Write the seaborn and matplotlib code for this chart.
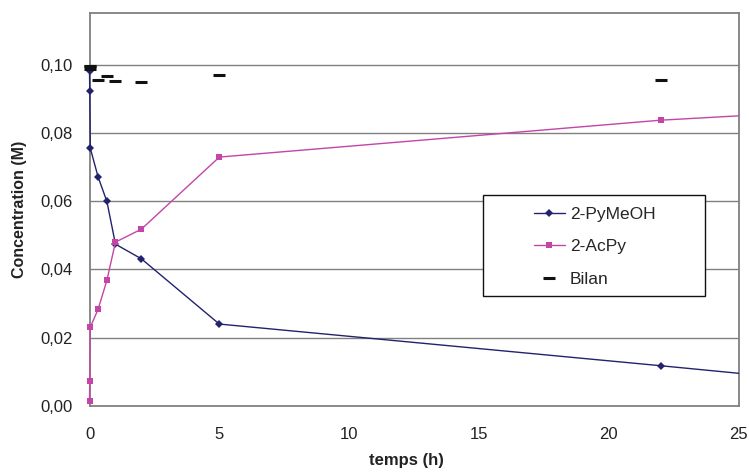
import matplotlib
matplotlib.use("Agg")
import matplotlib.pyplot as plt
import seaborn as sns
import pandas as pd
from matplotlib.patches import Rectangle
from matplotlib.ticker import FuncFormatter

# ---- data ----
temps = [0.0, 0.01, 0.03, 0.33, 0.67, 1.0, 2.0, 5.0, 22.0, 30.0]
pymeoh = [0.0981, 0.0923, 0.0755, 0.0671, 0.0599, 0.0474, 0.0431, 0.0240, 0.0118, 0.0059]
acpy = [0.0016, 0.0073, 0.0231, 0.0283, 0.0368, 0.0480, 0.0518, 0.0729, 0.0837, 0.0871]
bilan = [0.0997, 0.0996, 0.0986, 0.0955, 0.0966, 0.0953, 0.0949, 0.0970, 0.0956, 0.0930]
series_names = ["2-PyMeOH", "2-AcPy", "Bilan"]
xticks = [0, 5, 10, 15, 20, 25]
yticks = [0.0, 0.02, 0.04, 0.06, 0.08, 0.10]

df = pd.DataFrame({"temps": temps, "pymeoh": pymeoh, "acpy": acpy, "bilan": bilan})

sns.set_style("white")
plt.rcParams["font.family"] = ["Liberation Sans", "DejaVu Sans"]

fig = plt.figure(figsize=(7.49, 4.72), dpi=100)
ax = fig.add_axes([0.1195, 0.1398, 0.8665, 0.832])

blue = "#22226e"
pink = "#c445a6"
grid = "#808080"

for y in yticks[1:]:
    ax.axhline(y, color=grid, lw=1.0, zorder=1)

sns.lineplot(data=df, x="temps", y="pymeoh", ax=ax, sort=False, estimator=None,
             color=blue, lw=1.0, marker="D", markersize=4.5, markeredgewidth=0,
             label=series_names[0], zorder=3)
sns.lineplot(data=df, x="temps", y="acpy", ax=ax, sort=False, estimator=None,
             color=pink, lw=1.0, marker="s", markersize=5, markeredgewidth=0,
             label=series_names[1], zorder=3)
sns.lineplot(data=df, x="temps", y="bilan", ax=ax, sort=False, estimator=None,
             color="#111111", linestyle="", marker="_", markersize=8.5,
             markeredgewidth=2.2, markeredgecolor="#111111",
             label=series_names[2], zorder=4)

ax.set_xlim(0, 25)
ax.set_ylim(0, 0.115)

# let marks at t=0 show fully while still clipping beyond t=25
clip = Rectangle((-1.0, -0.01), 26.0, 0.14, transform=ax.transData)
for ln in ax.get_lines()[len(yticks) - 1:]:
    ln.set_clip_path(clip)

ax.set_xticks(xticks)
ax.set_yticks(yticks)
ax.yaxis.set_major_formatter(FuncFormatter(lambda v, p: f"{v:.2f}".replace(".", ",")))

for s in ax.spines.values():
    s.set_color(grid)
    s.set_linewidth(1.3)

ax.tick_params(axis="both", which="major", direction="out", length=6, width=1.2,
               color=grid, labelsize=12, labelcolor="#222222")
ax.tick_params(axis="x", pad=9)
ax.tick_params(axis="y", pad=6)

ax.set_xlabel("temps (h)", fontsize=12, fontweight="bold", color="#222222")
ax.set_ylabel("Concentration (M)", fontsize=11.5, fontweight="bold", color="#222222", labelpad=10)
ax.xaxis.set_label_coords(0.4877, -0.12)

# legend box
box = Rectangle((0.606, 0.281), 0.343, 0.256, transform=ax.transAxes,
                facecolor="white", edgecolor="#111111", lw=1.0, zorder=6)
ax.add_patch(box)
leg = ax.legend(loc="upper left", bbox_to_anchor=(0.661, 0.548), frameon=False,
                fontsize=12.5, handlelength=1.75, handletextpad=0.3,
                labelspacing=1.0, borderpad=0.4)
leg.set_zorder(7)

fig.savefig("out.png", dpi=100)
